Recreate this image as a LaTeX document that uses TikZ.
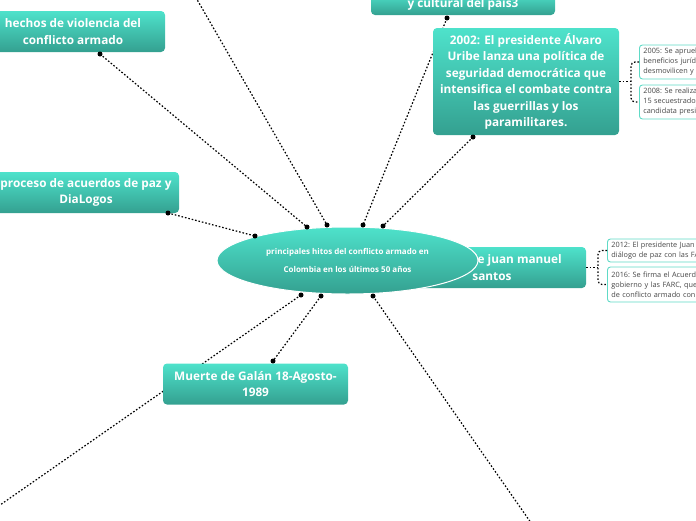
\documentclass[tikz,border=0pt]{standalone}
\usepackage{fontspec}
\setmainfont{Open Sans}
\usetikzlibrary{shapes.geometric}
\definecolor{tealtop}{RGB}{78,226,203}
\definecolor{tealbot}{RGB}{52,160,144}
\definecolor{tealline}{RGB}{95,218,198}
\definecolor{smalltext}{RGB}{70,70,70}
\tikzset{
  mainbox/.style={rectangle, rounded corners=4pt, top color=tealtop, bottom color=tealbot,
    text=white, font=\bfseries\fontsize{11.8}{16.5}\selectfont, align=center, inner sep=0pt,
    minimum height=41pt},
  subbox/.style={rectangle, rounded corners=3pt, draw=tealline, line width=0.9pt, fill=white,
    text=smalltext, font=\frenchspacing\fontsize{7.3}{10}\selectfont, align=left, anchor=west,
    inner xsep=4pt, inner ysep=0pt, text width=160pt},
  conn/.style={line width=1.2pt, dash pattern=on 1.6pt off 1.9pt},
  dotmark/.style={circle, fill=black, inner sep=0pt, minimum size=5pt},
}
\begin{document}
\begin{tikzpicture}[x=1pt,y=-1pt]
\useasboundingbox (0,0) rectangle (696,520);
% connector end points
\coordinate (a1) at (100,54);  \coordinate (a2) at (307,227);
\coordinate (b1) at (180,-30); \coordinate (b2) at (327,225);
\coordinate (c1) at (447,18);  \coordinate (c2) at (363,225);
\coordinate (d1) at (473,137); \coordinate (d2) at (383,226);
\coordinate (e1) at (168,213); \coordinate (e2) at (255,236);
\coordinate (f1) at (301,295); \coordinate (f2) at (-20,519);
\coordinate (g1) at (321,296); \coordinate (g2) at (273,361);
\coordinate (h1) at (373,296); \coordinate (h2) at (536,530);
% connectors
\draw[conn] (a1) -- (a2);
\draw[conn] (b1) -- (b2);
\draw[conn] (c1) -- (c2);
\draw[conn] (d1) -- (d2);
\draw[conn] (e1) -- (e2);
\draw[conn] (f1) -- (f2);
\draw[conn] (g1) -- (g2);
\draw[conn] (h1) -- (h2);
% main boxes
\node[mainbox, minimum width=184pt] (hechos) at (73,31.5) {hechos de violencia del\\conflicto armado};
\node[mainbox, minimum width=184pt, minimum height=22pt] (cultural) at (463,4) {y cultural del país3};
\node[mainbox, minimum width=186pt, minimum height=107pt] (uribe) at (526,81.5)
  {2002: El presidente Álvaro\\Uribe lanza una política de\\seguridad democrática que\\intensifica el combate contra\\las guerrillas y los\\paramilitares.};
\node[mainbox, minimum width=186pt] (proceso) at (86,192.5) {proceso de acuerdos de paz y\\DiaLogos};
\node[mainbox, minimum width=188pt] (santos) at (492,267.5) {\hspace*{48pt}de juan manuel\\santos};
\node[mainbox, minimum width=185pt] (galan) at (255.5,384) {Muerte de Galán 18-Agosto-\\1989};
% central ellipse
\node[ellipse, minimum width=261pt, minimum height=67pt, inner sep=0pt, top color=tealtop,
  bottom color=tealbot, draw=white, line width=1pt, text=white, align=center,
  font=\bfseries\fontsize{8}{18}\selectfont] (hub) at (347.5,260.5)
  {principales hitos del conflicto armado en\\Colombia en los últimos 50 años};
% sub boxes
\node[subbox, minimum height=34pt] (s1) at (639,62) {2005: Se aprueba\\beneficios jurídicos\\desmovilicen y c};
\node[subbox, minimum height=34pt] (s2) at (639,102) {2008: Se realiza\\15 secuestrados\\candidata presidencial};
\node[subbox, minimum height=23pt] (s3) at (607,250.5) {2012: El presidente Juan Manuel\\diálogo de paz con las FARC};
\node[subbox, minimum height=35pt] (s4) at (607,284.5) {2016: Se firma el Acuerdo\\gobierno y las FARC, que\\de conflicto armado con el};
% brackets
\coordinate (j1) at (631,81.5);
\coordinate (j2) at (598,267.5);
\draw[conn] (uribe.east) -- (j1);
\draw[conn, rounded corners=4pt] (s1.west) -| (j1) |- (s2.west);
\draw[conn] (santos.east) -- (j2);
\draw[conn, rounded corners=4pt] (s3.west) -| (j2) |- (s4.west);
% dots
\foreach \p in {a1,a2,b2,c1,c2,d1,d2,e1,e2,f1,g1,g2,h1}
  \node[dotmark] at (\p) {};
\end{tikzpicture}
\end{document}
